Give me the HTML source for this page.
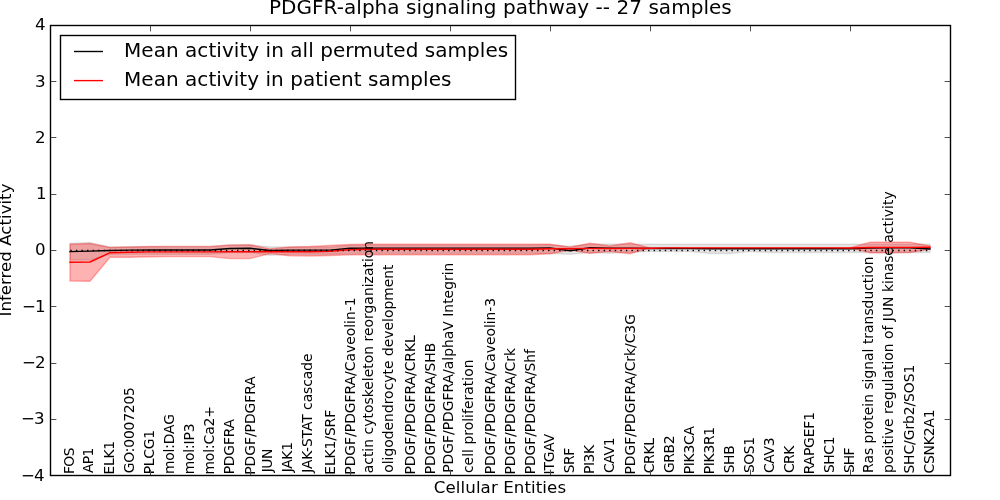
<!DOCTYPE html>
<html lang="en"><head><meta charset="utf-8"><title>PDGFR-alpha signaling pathway -- 27 samples</title>
<style>html,body{margin:0;padding:0;background:#fff;overflow:hidden}svg{display:block}text{font-family:"DejaVu Sans","Liberation Sans",sans-serif;fill:#000}</style></head><body>
<svg width="1000" height="500" viewBox="0 0 1000 500">
<rect width="1000" height="500" fill="#fff"/>
<g id="fills">
<polygon points="70.00,243.30 90.00,242.60 110.00,247.00 130.00,246.80 150.00,246.70 170.00,246.70 190.00,246.70 210.00,246.70 230.00,245.00 250.00,245.00 270.00,246.80 290.00,247.00 310.00,247.00 330.00,247.00 350.00,245.30 370.00,245.00 390.00,245.00 410.00,245.00 430.00,245.00 450.00,245.00 470.00,245.00 490.00,245.00 510.00,245.00 530.00,245.00 550.00,245.00 570.00,246.30 590.00,244.20 610.00,243.90 630.00,244.30 650.00,244.20 670.00,244.20 690.00,244.20 710.00,244.20 730.00,244.20 750.00,244.20 770.00,244.20 790.00,244.20 810.00,244.20 830.00,244.20 850.00,244.20 870.00,244.20 890.00,244.20 910.00,244.20 930.00,244.20 930.00,252.50 910.00,252.50 890.00,252.50 870.00,252.50 850.00,252.50 830.00,252.50 810.00,252.50 790.00,252.50 770.00,252.50 750.00,251.60 730.00,253.50 710.00,253.50 690.00,251.50 670.00,251.50 650.00,251.50 630.00,252.30 610.00,253.20 590.00,252.50 570.00,254.20 550.00,253.50 530.00,253.50 510.00,253.50 490.00,253.50 470.00,253.50 450.00,253.50 430.00,253.50 410.00,253.50 390.00,253.50 370.00,253.50 350.00,253.60 330.00,254.30 310.00,254.30 290.00,254.50 270.00,255.30 250.00,252.50 230.00,252.50 210.00,254.30 190.00,254.30 170.00,254.30 150.00,254.30 130.00,254.30 110.00,254.50 90.00,260.00 70.00,260.00" fill="#000" fill-opacity="0.1" stroke="#000" stroke-opacity="0.1" stroke-width="1.39"/>
<polygon points="70.00,244.30 90.00,243.50 110.00,247.50 130.00,247.00 150.00,246.50 170.00,246.40 190.00,246.40 210.00,246.40 230.00,244.90 250.00,244.80 270.00,248.90 290.00,247.00 310.00,246.50 330.00,245.50 350.00,244.50 370.00,244.20 390.00,244.20 410.00,244.20 430.00,244.20 450.00,244.20 470.00,244.20 490.00,244.20 510.00,244.20 530.00,244.20 550.00,244.10 570.00,247.20 590.00,243.30 610.00,246.00 630.00,242.80 650.00,247.90 670.00,247.90 690.00,247.90 710.00,247.90 730.00,247.90 750.00,247.90 770.00,247.90 790.00,247.90 810.00,247.90 830.00,247.90 850.00,247.90 870.00,242.20 890.00,242.20 910.00,242.25 930.00,246.00 930.00,249.20 910.00,252.50 890.00,252.80 870.00,252.80 850.00,247.90 830.00,247.90 810.00,247.90 790.00,247.90 770.00,247.90 750.00,247.90 730.00,247.90 710.00,247.90 690.00,247.90 670.00,247.90 650.00,247.90 630.00,253.70 610.00,251.40 590.00,253.40 570.00,250.00 550.00,253.80 530.00,254.70 510.00,254.70 490.00,254.70 470.00,254.70 450.00,254.70 430.00,254.70 410.00,254.70 390.00,254.70 370.00,254.70 350.00,254.80 330.00,255.50 310.00,256.00 290.00,255.70 270.00,253.60 250.00,258.60 230.00,258.60 210.00,256.60 190.00,256.60 170.00,256.60 150.00,256.70 130.00,257.20 110.00,257.20 90.00,281.20 70.00,281.00" fill="#f00" fill-opacity="0.3" stroke="#f00" stroke-opacity="0.3" stroke-width="1.39" stroke-linejoin="miter"/>
</g>
<polyline points="70.00,251.60 90.00,251.10 110.00,250.50 130.00,250.10 150.00,250.00 170.00,250.00 190.00,250.00 210.00,250.00 230.00,248.50 250.00,248.30 270.00,250.50 290.00,250.10 310.00,250.10 330.00,250.10 350.00,248.30 370.00,248.10 390.00,248.10 410.00,248.10 430.00,248.10 450.00,248.10 470.00,248.10 490.00,248.10 510.00,248.10 530.00,248.10 550.00,247.90 570.00,250.70 590.00,247.80 610.00,248.30 630.00,248.20 650.00,248.50 670.00,248.50 690.00,248.60 710.00,248.80 730.00,248.80 750.00,248.80 770.00,248.80 790.00,248.80 810.00,248.80 830.00,248.80 850.00,248.80 870.00,248.00 890.00,247.80 910.00,247.80 930.00,249.00" fill="none" stroke="#000" stroke-width="1.39" stroke-linecap="square" stroke-linejoin="round"/>
<polyline points="70.00,262.20 90.00,262.00 110.00,252.70 130.00,252.20 150.00,251.90 170.00,251.90 190.00,251.90 210.00,251.90 230.00,251.80 250.00,251.80 270.00,251.50 290.00,251.80 310.00,251.80 330.00,251.30 350.00,249.80 370.00,249.30 390.00,249.30 410.00,249.30 430.00,249.30 450.00,249.30 470.00,249.30 490.00,249.30 510.00,249.30 530.00,249.30 550.00,248.80 570.00,248.70 590.00,248.40 610.00,248.50 630.00,248.40 650.00,248.20 670.00,247.90 690.00,247.90 710.00,247.90 730.00,247.90 750.00,247.90 770.00,247.90 790.00,247.90 810.00,247.90 830.00,247.90 850.00,248.00 870.00,247.50 890.00,247.40 910.00,247.40 930.00,247.30" fill="none" stroke="#f00" stroke-width="1.39" stroke-linecap="square" stroke-linejoin="round"/>
<line x1="70.33" y1="250.45" x2="930" y2="250.45" stroke="#000" stroke-width="1.39" stroke-dasharray="1.3889 4.1667"/>
<g class="labs" font-size="13.89">
<text class="lab" transform="translate(73.90,474.05) rotate(-90)" textLength="26.52">FOS</text>
<text class="lab" transform="translate(93.40,473.05) rotate(-90)" textLength="25.39">AP1</text>
<text class="lab" transform="translate(113.90,474.45) rotate(-90)" textLength="33.44">ELK1</text>
<text class="lab" transform="translate(133.90,473.20) rotate(-90)" textLength="86.11">GO:0007205</text>
<text class="lab" transform="translate(153.90,474.30) rotate(-90)" textLength="44.38">PLCG1</text>
<text class="lab" transform="translate(173.90,474.05) rotate(-90)" textLength="59.98">mol:DAG</text>
<text class="lab" transform="translate(193.90,474.30) rotate(-90)" textLength="50.83">mol:IP3</text>
<text class="lab" transform="translate(213.90,474.55) rotate(-90)" textLength="68.49">mol:Ca2+</text>
<text class="lab" transform="translate(233.90,474.30) rotate(-90)" textLength="55.36">PDGFRA</text>
<text class="lab" transform="translate(254.90,474.70) rotate(-90)" textLength="98.41">PDGF/PDGFRA</text>
<text class="lab" transform="translate(272.40,472.20) rotate(-90)" textLength="23.54">JUN</text>
<text class="lab" transform="translate(292.40,472.30) rotate(-90)" textLength="30.28">JAK1</text>
<text class="lab" transform="translate(312.40,472.85) rotate(-90)" textLength="119.43">JAK-STAT cascade</text>
<text class="lab" transform="translate(334.65,474.70) rotate(-90)" textLength="64.83">ELK1/SRF</text>
<text class="lab" transform="translate(354.90,474.70) rotate(-90)" textLength="177.27">PDGF/PDGFRA/Caveolin-1</text>
<text class="lab" transform="translate(373.40,473.30) rotate(-90)" textLength="232.44">actin cytoskeleton reorganization</text>
<text class="lab" transform="translate(393.40,472.80) rotate(-90)" textLength="208.39">oligodendrocyte development</text>
<text class="lab" transform="translate(414.90,474.60) rotate(-90)" textLength="139.36">PDGF/PDGFRA/CRKL</text>
<text class="lab" transform="translate(434.90,474.35) rotate(-90)" textLength="131.55">PDGF/PDGFRA/SHB</text>
<text class="lab" transform="translate(453.40,472.80) rotate(-90)" textLength="210.18">PDGF/PDGFRA/alphaV Integrin</text>
<text class="lab" transform="translate(473.40,473.10) rotate(-90)" textLength="113.61">cell proliferation</text>
<text class="lab" transform="translate(494.90,474.35) rotate(-90)" textLength="176.47">PDGF/PDGFRA/Caveolin-3</text>
<text class="lab" transform="translate(514.90,474.55) rotate(-90)" textLength="126.52">PDGF/PDGFRA/Crk</text>
<text class="lab" transform="translate(534.90,474.35) rotate(-90)" textLength="125.28">PDGF/PDGFRA/Shf</text>
<text class="lab" transform="translate(553.90,474.45) rotate(-90)" textLength="40.62">ITGAV</text>
<text class="lab" transform="translate(573.90,473.30) rotate(-90)" textLength="25.44">SRF</text>
<text class="lab" transform="translate(593.90,473.90) rotate(-90)" textLength="28.99">PI3K</text>
<text class="lab" transform="translate(613.90,473.05) rotate(-90)" textLength="35.62">CAV1</text>
<text class="lab" transform="translate(634.90,474.55) rotate(-90)" textLength="160.46">PDGF/PDGFRA/Crk/C3G</text>
<text class="lab" transform="translate(653.90,473.30) rotate(-90)" textLength="35.37">CRKL</text>
<text class="lab" transform="translate(673.90,473.05) rotate(-90)" textLength="37.65">GRB2</text>
<text class="lab" transform="translate(693.90,474.30) rotate(-90)" textLength="48.28">PIK3CA</text>
<text class="lab" transform="translate(713.90,474.30) rotate(-90)" textLength="47.46">PIK3R1</text>
<text class="lab" transform="translate(733.90,473.30) rotate(-90)" textLength="27.97">SHB</text>
<text class="lab" transform="translate(753.90,473.05) rotate(-90)" textLength="36.08">SOS1</text>
<text class="lab" transform="translate(773.90,473.05) rotate(-90)" textLength="35.62">CAV3</text>
<text class="lab" transform="translate(793.90,473.05) rotate(-90)" textLength="27.34">CRK</text>
<text class="lab" transform="translate(813.90,474.30) rotate(-90)" textLength="62.27">RAPGEF1</text>
<text class="lab" transform="translate(833.90,473.00) rotate(-90)" textLength="36.47">SHC1</text>
<text class="lab" transform="translate(853.90,473.05) rotate(-90)" textLength="25.43">SHF</text>
<text class="lab" transform="translate(873.40,472.95) rotate(-90)" textLength="216.44">Ras protein signal transduction</text>
<text class="lab" transform="translate(893.40,472.95) rotate(-90)" textLength="281.55">positive regulation of JUN kinase activity</text>
<text class="lab" transform="translate(913.90,473.60) rotate(-90)" textLength="108.83">SHC/Grb2/SOS1</text>
<text class="lab" transform="translate(933.90,473.55) rotate(-90)" textLength="64.12">CSNK2A1</text>
</g>
<rect x="50.5" y="25.5" width="900" height="450" fill="none" stroke="#000" stroke-width="1.39"/>
<g fill="#4d4d4d"><rect x="150" y="26" width="1" height="5.35"/><rect x="150" y="469.65" width="1" height="5.35"/><rect x="250" y="26" width="1" height="5.35"/><rect x="250" y="469.65" width="1" height="5.35"/><rect x="350" y="26" width="1" height="5.35"/><rect x="350" y="469.65" width="1" height="5.35"/><rect x="450" y="26" width="1" height="5.35"/><rect x="450" y="469.65" width="1" height="5.35"/><rect x="550" y="26" width="1" height="5.35"/><rect x="550" y="469.65" width="1" height="5.35"/><rect x="650" y="26" width="1" height="5.35"/><rect x="650" y="469.65" width="1" height="5.35"/><rect x="750" y="26" width="1" height="5.35"/><rect x="750" y="469.65" width="1" height="5.35"/><rect x="850" y="26" width="1" height="5.35"/><rect x="850" y="469.65" width="1" height="5.35"/><rect x="51" y="81" width="5.35" height="1"/><rect x="944.65" y="81" width="5.35" height="1"/><rect x="51" y="137" width="5.35" height="1"/><rect x="944.65" y="137" width="5.35" height="1"/><rect x="51" y="194" width="5.35" height="1"/><rect x="944.65" y="194" width="5.35" height="1"/><rect x="51" y="250" width="5.35" height="1"/><rect x="944.65" y="250" width="5.35" height="1"/><rect x="51" y="306" width="5.35" height="1"/><rect x="944.65" y="306" width="5.35" height="1"/><rect x="51" y="363" width="5.35" height="1"/><rect x="944.65" y="363" width="5.35" height="1"/><rect x="51" y="419" width="5.35" height="1"/><rect x="944.65" y="419" width="5.35" height="1"/></g>
<g font-size="16.67" text-anchor="end">
<text x="45.50" y="30.00">4</text>
<text x="45.50" y="87.00">3</text>
<text x="45.50" y="143.00">2</text>
<text x="46.50" y="199.00">1</text>
<text x="45.50" y="255.00">0</text>
<text x="45.50" y="312.00">−<tspan dx="-1">1</tspan></text>
<text x="45.50" y="368.00">−<tspan dx="-1">2</tspan></text>
<text x="44.50" y="424.00">−<tspan dx="-1">3</tspan></text>
<text x="44.50" y="481.00">−<tspan dx="-1">4</tspan></text>
</g>
<text x="500.4" y="13.5" font-size="20" text-anchor="middle" letter-spacing="0.043">PDGFR-alpha signaling pathway -- 27 samples</text>
<text x="500" y="492.7" font-size="16.67" text-anchor="middle" letter-spacing="0.08">Cellular Entities</text>
<text transform="translate(11.3,250) rotate(-90)" font-size="16.67" text-anchor="middle" letter-spacing="0">Inferred Activity</text>
<g id="legend">
<rect x="60.5" y="35.5" width="455" height="64" fill="#fff" stroke="#000" stroke-width="1.39"/>
<line x1="74" y1="51.5" x2="103" y2="51.5" stroke="#000" stroke-width="1.39"/>
<line x1="74" y1="80.6" x2="103" y2="80.6" stroke="#f00" stroke-width="1.39"/>
<text x="124" y="57" font-size="20" letter-spacing="0.044">Mean activity in all permuted samples</text>
<text x="124" y="86" font-size="20" letter-spacing="0.04">Mean activity in patient samples</text>
</g>
</svg></body></html>
